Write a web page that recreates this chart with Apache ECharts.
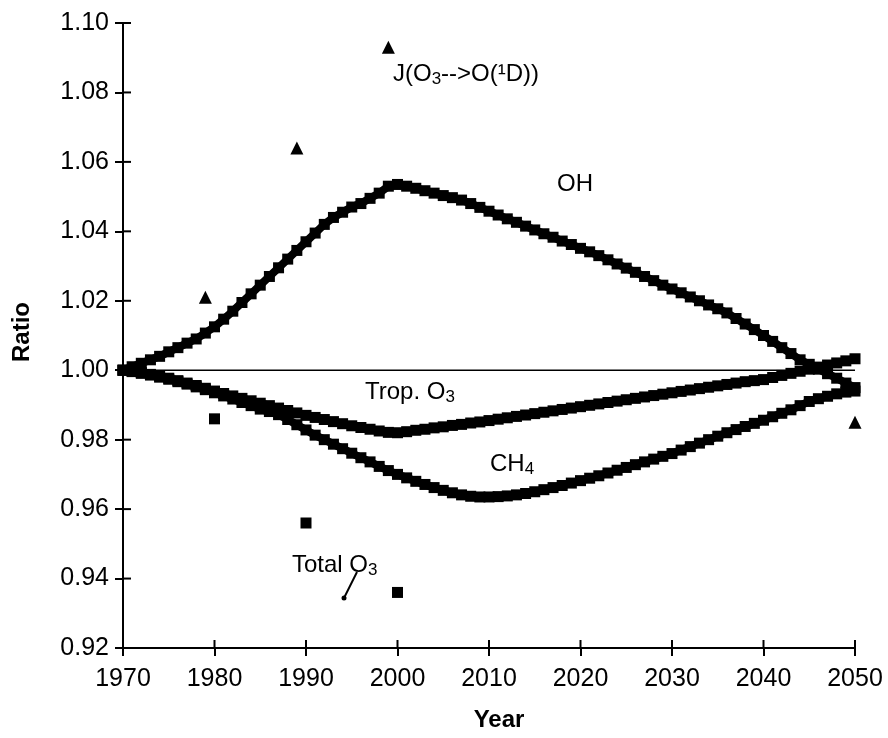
<!DOCTYPE html>
<html>
<head>
<meta charset="utf-8">
<script src="https://cdn.jsdelivr.net/npm/echarts@6/dist/echarts.min.js"></script>
<style>
  html, body { margin: 0; padding: 0; background: #fff; }
  #chart { width: 888px; height: 738px; }
</style>
</head>
<body>
<div id="chart"></div>
<script>
// yearly model years 1970..2050
const years = [];
for (let y = 1970; y <= 2050; y++) years.push(y);

// OH ratio
const ohRatio = [
  1.000, 1.001, 1.002, 1.003, 1.004, 1.0053, 1.0065, 1.0078, 1.009, 1.0107,
  1.0125, 1.0147, 1.017, 1.0195, 1.022, 1.0245, 1.027, 1.0295, 1.032, 1.0345,
  1.037, 1.0395, 1.042, 1.044, 1.0455, 1.047, 1.048, 1.0495, 1.051, 1.053,
  1.0535, 1.053, 1.0524, 1.0517, 1.051, 1.0503, 1.0497, 1.049, 1.048, 1.0469,
  1.0458, 1.0447, 1.0436, 1.0426, 1.0415, 1.0404, 1.0393, 1.0383, 1.0372, 1.0362,
  1.0351, 1.0341, 1.033, 1.0318, 1.0306, 1.0294, 1.0282, 1.027, 1.0258, 1.0245,
  1.0234, 1.0223, 1.0211, 1.02, 1.0188, 1.0177, 1.0165, 1.0149, 1.0133, 1.0117,
  1.010, 1.0083, 1.0065, 1.0048, 1.003, 1.0017, 1.0003, 0.999, 0.9977, 0.9963,
  0.995
];

// tropospheric O3 ratio
const tropO3Ratio = [
  1.000, 0.9997, 0.9993, 0.9988, 0.9983, 0.9977, 0.997, 0.9963, 0.9956, 0.9948,
  0.994, 0.9933, 0.9926, 0.9919, 0.9912, 0.9905, 0.9898, 0.9891, 0.9884, 0.9877,
  0.987, 0.9864, 0.9858, 0.9852, 0.9846, 0.984, 0.9835, 0.983, 0.9825, 0.9821,
  0.982, 0.9823, 0.9827, 0.983, 0.9834, 0.9837, 0.9841, 0.9844, 0.9848, 0.9851,
  0.9855, 0.9859, 0.9863, 0.9867, 0.9871, 0.9875, 0.9879, 0.9883, 0.9887, 0.9891,
  0.9895, 0.9899, 0.9903, 0.9907, 0.9911, 0.9915, 0.9919, 0.9923, 0.9927, 0.9931,
  0.9935, 0.9939, 0.9943, 0.9947, 0.9951, 0.9955, 0.9959, 0.9963, 0.9967, 0.997,
  0.9973, 0.9979, 0.9985, 0.9991, 0.9997, 1.0003, 1.0009, 1.0015, 1.0021, 1.0027,
  1.0033
];

// CH4 ratio
const ch4Ratio = [
  1.000, 0.9996, 0.9991, 0.9986, 0.998, 0.9974, 0.9967, 0.996, 0.9952, 0.9944,
  0.9935, 0.9926, 0.9917, 0.9907, 0.9898, 0.9888, 0.9881, 0.9872, 0.9858, 0.9843,
  0.9828, 0.9813, 0.98, 0.9787, 0.9774, 0.9761, 0.9748, 0.9736, 0.9723, 0.9711,
  0.970, 0.969, 0.968, 0.9671, 0.9662, 0.9654, 0.9647, 0.9641, 0.9637, 0.9635,
  0.9635, 0.9636, 0.9638, 0.9641, 0.9645, 0.965, 0.9656, 0.9662, 0.9668, 0.9675,
  0.9682, 0.9689, 0.9696, 0.9704, 0.9712, 0.972, 0.9728, 0.9736, 0.9744, 0.9752,
  0.976, 0.977, 0.978, 0.979, 0.980, 0.981, 0.982, 0.9829, 0.9838, 0.9847,
  0.9856, 0.9866, 0.9876, 0.9886, 0.9898, 0.991, 0.9918, 0.9925, 0.9932, 0.9937,
  0.994
];

// J(O3->O(1D)) triangles
const jYears = [1979, 1989, 1999, 2050];
const jRatio = [1.021, 1.064, 1.093, 0.985];

// total O3 squares
const totalO3Years = [1980, 1990, 2000];
const totalO3Ratio = [0.986, 0.956, 0.936];

// reference line at 1.00
const refYears = [1970, 2050];
const refRatio = [1.0, 1.0];

// tick values
const xTickVals = [1970, 1980, 1990, 2000, 2010, 2020, 2030, 2040, 2050];
const yTickVals = [0.92, 0.94, 0.96, 0.98, 1.00, 1.02, 1.04, 1.06, 1.08, 1.10];

const zip = (xs, ys) => xs.map((x, i) => [x, ys[i]]);

const FONT = "'Liberation Sans', Arial, sans-serif";
const tickLabel = { color: "#000", fontFamily: FONT, fontSize: 25 };
const TICK = 8;

const chart = echarts.init(document.getElementById("chart"), null, { renderer: "canvas" });

const thick = (name, vals) => ({
  name: name,
  type: "line",
  data: zip(years, vals),
  symbol: "rect",
  symbolSize: 11,
  showSymbol: true,
  itemStyle: { color: "#000", opacity: 1 },
  lineStyle: { color: "#000", width: 8 },
  z: 3
});

const option = {
  animation: false,
  backgroundColor: "#fff",
  grid: { left: 123, right: 33, top: 23, bottom: 90, containLabel: false, outerBoundsMode: "none" },
  xAxis: {
    type: "value",
    min: xTickVals[0], max: xTickVals[xTickVals.length - 1], interval: 10,
    name: "Year",
    nameLocation: "middle",
    nameGap: 60,
    nameTextStyle: { color: "#000", fontFamily: FONT, fontSize: 24, fontWeight: "bold", padding: [0, 0, 0, 20] },
    axisLine: { lineStyle: { color: "#000", width: 2 } },
    axisTick: { show: true, length: TICK, lineStyle: { color: "#000", width: 2 } },
    axisLabel: Object.assign({ margin: 19, formatter: v => String(v) }, tickLabel),
    splitLine: { show: false }
  },
  yAxis: {
    type: "value",
    min: yTickVals[0], max: yTickVals[yTickVals.length - 1], interval: 0.02,
    axisLine: { show: true, lineStyle: { color: "#000", width: 2 } },
    axisTick: { show: true, length: TICK, lineStyle: { color: "#000", width: 2 } },
    axisLabel: Object.assign({ margin: 14, formatter: v => v.toFixed(2) }, tickLabel),
    splitLine: { show: false }
  },
  series: [
    {
      name: "ref",
      type: "line",
      data: zip(refYears, refRatio),
      showSymbol: false,
      lineStyle: { color: "#000", width: 1.5 },
      z: 2
    },
    thick("OH", ohRatio),
    thick("Trop. O3", tropO3Ratio),
    thick("CH4", ch4Ratio),
    {
      name: "J(O3->O(1D))",
      type: "scatter",
      data: zip(jYears, jRatio),
      symbol: "triangle",
      symbolSize: 13,
      itemStyle: { color: "#000", opacity: 1 },
      z: 4
    },
    {
      name: "Total O3",
      type: "scatter",
      data: zip(totalO3Years, totalO3Ratio),
      symbol: "rect",
      symbolSize: 11,
      itemStyle: { color: "#000", opacity: 1 },
      z: 4
    }
  ]
};

chart.setOption(option);

// inner half of the cross-shaped ticks, placed through the axes
const tickMarks = [];
xTickVals.forEach(v => {
  const p = chart.convertToPixel({ gridIndex: 0 }, [v, yTickVals[0]]);
  tickMarks.push({
    type: "line", z: 5, silent: true,
    shape: { x1: p[0], y1: p[1], x2: p[0], y2: p[1] - TICK },
    style: { stroke: "#000", lineWidth: 2 }
  });
});
yTickVals.forEach(v => {
  const p = chart.convertToPixel({ gridIndex: 0 }, [xTickVals[0], v]);
  tickMarks.push({
    type: "line", z: 5, silent: true,
    shape: { x1: p[0], y1: p[1], x2: p[0] + TICK, y2: p[1] },
    style: { stroke: "#000", lineWidth: 2 }
  });
});

// curve labels, subscripts done with rich text
const rich = {
  n: { fontFamily: FONT, fontSize: 24, color: "#000" },
  sub: { fontFamily: FONT, fontSize: 17, color: "#000", padding: [11, 0, 0, 0] }
};
const label = (x, y, text) => ({
  type: "text",
  left: x,
  top: y,
  z: 10,
  style: { text: text, rich: rich, fill: "#000" }
});

chart.setOption({
  graphic: tickMarks.concat([
    label(393, 62, "{n|J(O}{sub|3}{n|-->O(¹D))}"),
    label(557, 172, "{n|OH}"),
    label(365, 380, "{n|Trop. O}{sub|3}"),
    label(490, 452, "{n|CH}{sub|4}"),
    label(292, 553, "{n|Total O}{sub|3}"),
    {
      type: "text",
      x: 10,
      y: 332,
      rotation: Math.PI / 2,
      z: 10,
      style: {
        text: "Ratio",
        fill: "#000",
        font: "bold 24px " + FONT,
        align: "center",
        verticalAlign: "top"
      }
    },
    {
      type: "line",
      z: 10,
      shape: { x1: 357, y1: 572, x2: 344, y2: 598 },
      style: { stroke: "#000", lineWidth: 2 }
    },
    {
      type: "circle",
      z: 10,
      shape: { cx: 344, cy: 598, r: 2.5 },
      style: { fill: "#000" }
    }
  ])
});
</script>
</body>
</html>
